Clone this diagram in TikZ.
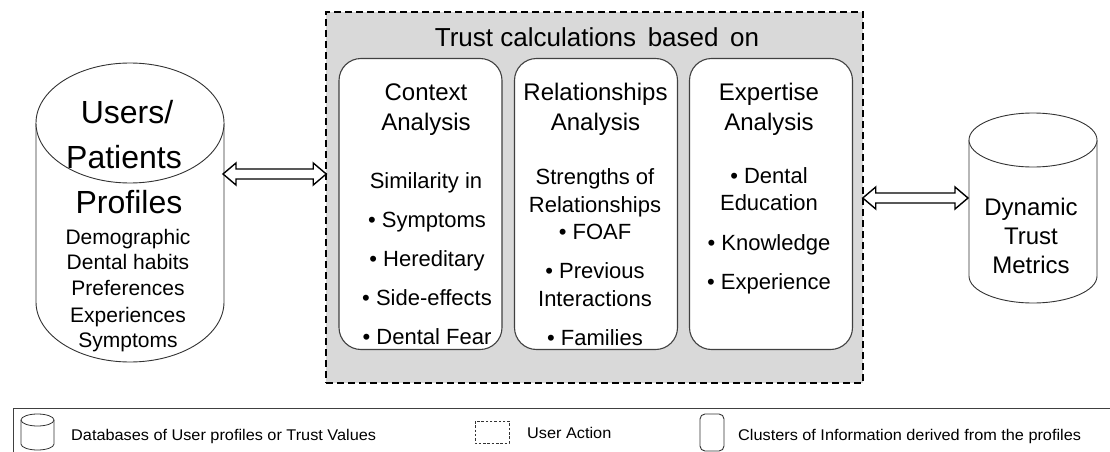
\documentclass[tikz,border=0pt]{standalone}
\usepackage{fontspec}
\setmainfont{Liberation Sans}
\newfontfamily\legendfont[FakeStretch=1.05]{Liberation Sans}
\usetikzlibrary{calc}
\begin{document}
\begin{tikzpicture}[x=1pt,y=-1pt,
  cyl/.style={draw=black!80, line width=0.9pt, fill=white},
  cluster/.style={draw=black!75, line width=1.1pt, fill=white, rounded corners=22pt,
    minimum width=163pt, minimum height=291pt, inner sep=0pt},
  hdr/.style={font=\fontsize{24}{28}\selectfont, inner sep=0pt, text height=17pt, text depth=0pt},
  body/.style={font=\fontsize{22}{26}\selectfont, inner sep=0pt, text height=15.8pt, text depth=0pt},
  big/.style={font=\fontsize{32}{36}\selectfont, inner sep=0pt, text height=23pt, text depth=0pt},
  small/.style={font=\fontsize{21}{25}\selectfont, inner sep=0pt, text height=15pt, text depth=0pt},
  legtext/.style={font=\legendfont\fontsize{15.5}{18}\selectfont, inner sep=0pt, text height=11pt, text depth=0pt, anchor=west},
  dblarrow/.style={draw=black, line width=1.4pt, fill=white, line join=miter}
]
\useasboundingbox (0,0) rectangle (1110,452);

% ---------- left cylinder ----------
\draw[cyl] (36,123) -- (36,302) arc[start angle=180, end angle=0, x radius=94, y radius=60] -- (224,123);
\draw[cyl] (130,123) ellipse[x radius=94, y radius=60];
\coordinate (usersE) at (223,174);
\node[big] (u1) at (127,112) {Users/};
\node[big] (u2) at (124,157) {Patients};
\node[big] (u3) at (129,202) {Profiles};
\node[small] (s1) at (128,237) {Demographic};
\node[small] (s2) at (128,262) {Dental habits};
\node[small] (s3) at (128,288) {Preferences};
\node[small] (s4) at (128,315) {Experiences};
\node[small] (s5) at (128,340) {Symptoms};

% ---------- central dashed box ----------
\node[draw=black, line width=1.5pt, dash pattern=on 7pt off 4pt, fill=black!15,
  minimum width=537pt, minimum height=371pt, inner sep=0pt] (trust) at (594.5,197.5) {};
\node[font=\fontsize{26}{30}\selectfont, inner sep=0pt, text height=18.6pt, text depth=0pt] (title) at (597,37) {Trust calculations\, based\, on};

\node[cluster] (ctx) at (420.5,204) {};
\node[cluster] (rel) at (596,204) {};
\node[cluster] (exp) at (771,204) {};

% context
\node[hdr] (c1) at (426,92) {Context};
\node[hdr] (c2) at (426,122) {Analysis};
\node[body] (c3) at (426,181) {Similarity in};
\node[body] (c4) at (427,220) {\textbullet\ Symptoms};
\node[body] (c5) at (427,259) {\textbullet\ Hereditary};
\node[body] (c6) at (427,298) {\textbullet\ Side-effects};
\node[body] (c7) at (427,337) {\textbullet\ Dental Fear};

% relationships
\node[hdr] (r1) at (595.5,92) {Relationships};
\node[hdr] (r2) at (595.5,122) {Analysis};
\node[body] (r3) at (595,177) {Strengths of};
\node[body] (r4) at (595,205) {Relationships};
\node[body] (r5) at (595,232) {\textbullet\ FOAF};
\node[body] (r6) at (595,271) {\textbullet\ Previous};
\node[body] (r7) at (595,299) {Interactions};
\node[body] (r8) at (595,338) {\textbullet\ Families};

% expertise
\node[hdr] (e1) at (769,92) {Expertise};
\node[hdr] (e2) at (769,122) {Analysis};
\node[body] (e3) at (769,176) {\textbullet\ Dental};
\node[body] (e4) at (769,203) {Education};
\node[body] (e5) at (769,243) {\textbullet\ Knowledge};
\node[body] (e6) at (769,282) {\textbullet\ Experience};

% ---------- right cylinder ----------
\draw[cyl] (969,140) -- (969,276) arc[start angle=180, end angle=0, x radius=64, y radius=27] -- (1097,140);
\draw[cyl] (1033,140) ellipse[x radius=64, y radius=27];
\coordinate (dynW) at (968,198);
\node[hdr] (d1) at (1031,207) {Dynamic};
\node[hdr] (d2) at (1031,236) {Trust};
\node[hdr] (d3) at (1031,265) {Metrics};

% ---------- connectors (hollow double arrows) ----------
\coordinate (la) at (usersE);
\coordinate (lb) at ($(usersE -| trust.west)+(1,0)$);
\draw[dblarrow] (la) -- ($(la)+(13,-11)$) -- ($(la)+(13,-5)$) -- ($(lb)+(-13,-5)$) -- ($(lb)+(-13,-11)$)
  -- (lb) -- ($(lb)+(-13,11)$) -- ($(lb)+(-13,5)$) -- ($(la)+(13,5)$) -- ($(la)+(13,11)$) -- cycle;
\coordinate (ra) at ($(trust.east |- dynW)+(-1,0)$);
\coordinate (rb) at (dynW);
\draw[dblarrow] (ra) -- ($(ra)+(13,-11)$) -- ($(ra)+(13,-5)$) -- ($(rb)+(-13,-5)$) -- ($(rb)+(-13,-11)$)
  -- (rb) -- ($(rb)+(-13,11)$) -- ($(rb)+(-13,5)$) -- ($(ra)+(13,5)$) -- ($(ra)+(13,11)$) -- cycle;

% ---------- legend ----------
\coordinate (legTR) at (1110,408);
\coordinate (legTL) at (13,408);
\coordinate (legBL) at (13,452);
\draw[draw=black!75, line width=1pt] (legTR) -- (legTL) -- (legBL);

\draw[draw=black!80, line width=0.8pt, fill=white] (21,420) -- (21,444) arc[start angle=180, end angle=0, x radius=16.5, y radius=6] -- (54,420);
\draw[draw=black!80, line width=0.8pt] (37.5,420) ellipse[x radius=16.5, y radius=6];
\node[legtext] (l1) at (71,435) {Databases of User profiles or Trust Values};

\draw[draw=black!80, line width=0.9pt, dash pattern=on 2.5pt off 1.8pt] (475,421) rectangle (509,443);
\node[legtext] (l2) at (527,433) {User Action};

\draw[draw=black!80, line width=0.9pt, rounded corners=5pt] (700,414) rectangle (724,451);
\node[legtext] (l3) at (738,435) {Clusters of Information derived from the profiles};
\end{tikzpicture}
\end{document}
